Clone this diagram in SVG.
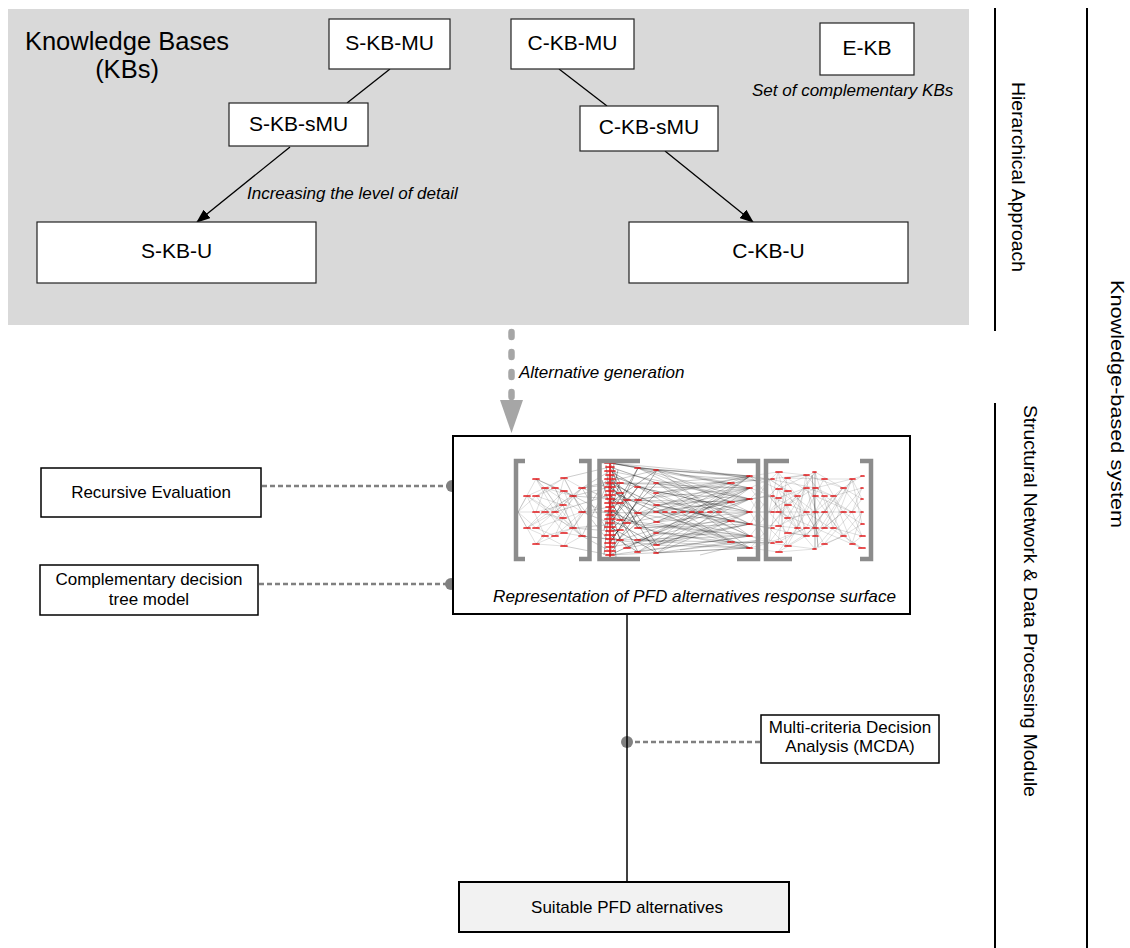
<svg xmlns="http://www.w3.org/2000/svg" width="1130" height="948" viewBox="0 0 1130 948">
  <style>
    .lbl { font-family: "Liberation Sans", Arial, sans-serif; fill: #000; }
    .box { fill: #fff; stroke: #222; stroke-width: 1.2; }
    .it { font-family: "Liberation Sans", Arial, sans-serif; font-style: italic; fill: #000; }
    .dot { stroke: #808080; stroke-width: 2.5; stroke-dasharray: 5 3; fill: none; }
    .pin { fill: #808080; }
    .bracket { fill: none; stroke: #8c8c8c; stroke-width: 4.5; }
    .vert { font-family: "Liberation Sans", Arial, sans-serif; font-size: 19px; fill: #000; }
  </style>
  <defs>
    <marker id="arrow" markerUnits="userSpaceOnUse" markerWidth="14" markerHeight="11" refX="13" refY="5.5" orient="auto">
      <path d="M0 0 L14 5.5 L0 11 Z" fill="#000"/>
    </marker>
  </defs>

  <rect width="1130" height="948" fill="#fff"/>

  <!-- knowledge base panel -->
  <rect id="kb-panel" x="8" y="9" width="961" height="316" fill="#d9d9d9"/>
  <g id="kb-title">
    <text class="lbl" x="127" y="50" font-size="25.5" text-anchor="middle">Knowledge Bases</text>
    <text class="lbl" x="127" y="78" font-size="25.5" text-anchor="middle">(KBs)</text>
  </g>

  <!-- connectors -->
  <g id="connectors">
    <line x1="390" y1="69" x2="347" y2="103" stroke="#000" stroke-width="1.3"/>
    <line x1="290" y1="147" x2="197" y2="222" stroke="#000" stroke-width="1.3" marker-end="url(#arrow)"/>
    <line x1="559" y1="69" x2="607" y2="106" stroke="#000" stroke-width="1.3"/>
    <line x1="665" y1="151" x2="753" y2="222" stroke="#000" stroke-width="1.3" marker-end="url(#arrow)"/>
    <!-- alternative generation -->
    <line x1="511.5" y1="332" x2="511.5" y2="397" stroke="#a6a6a6" stroke-width="6.5" stroke-linecap="round" stroke-dasharray="5 15"/>
    <path d="M500 400 L523 400 L511.5 433 Z" fill="#a6a6a6"/>
    <!-- dotted attachments -->
    <line class="dot" x1="262" y1="486" x2="452" y2="486"/>
    <line class="dot" x1="259" y1="584" x2="452" y2="584"/>
    <line class="dot" x1="627" y1="742" x2="761" y2="742"/>
    <circle class="pin" cx="452" cy="486" r="6"/>
    <circle class="pin" cx="451" cy="584" r="6"/>
    <circle class="pin" cx="627" cy="742" r="6"/>
    <!-- main flow -->
    <line x1="627" y1="614" x2="627" y2="882" stroke="#000" stroke-width="1.5"/>
  </g>

  <g id="s-kb-mu">
    <rect class="box" x="329" y="19" width="121" height="50"/>
    <text class="lbl" x="389.5" y="50" font-size="21" text-anchor="middle">S-KB-MU</text>
  </g>
  <g id="s-kb-smu">
    <rect class="box" x="229" y="103" width="139" height="43"/>
    <text class="lbl" x="298.5" y="131" font-size="21" text-anchor="middle">S-KB-sMU</text>
  </g>
  <g id="s-kb-u">
    <rect class="box" x="37" y="222" width="279" height="61"/>
    <text class="lbl" x="176.5" y="258" font-size="21" text-anchor="middle">S-KB-U</text>
  </g>
  <g id="c-kb-mu">
    <rect class="box" x="511" y="19" width="123" height="50"/>
    <text class="lbl" x="572.5" y="50" font-size="21" text-anchor="middle">C-KB-MU</text>
  </g>
  <g id="c-kb-smu">
    <rect class="box" x="580" y="106" width="138" height="45"/>
    <text class="lbl" x="649" y="134" font-size="21" text-anchor="middle">C-KB-sMU</text>
  </g>
  <g id="c-kb-u">
    <rect class="box" x="629" y="222" width="279" height="61"/>
    <text class="lbl" x="768.5" y="258" font-size="21" text-anchor="middle">C-KB-U</text>
  </g>
  <g id="e-kb">
    <rect class="box" x="820" y="23" width="94" height="52"/>
    <text class="lbl" x="867" y="55" font-size="21" text-anchor="middle">E-KB</text>
  </g>

  <text class="it" x="247" y="199" font-size="17">Increasing the level of detail</text>
  <text class="it" x="752" y="96" font-size="17">Set of complementary KBs</text>
  <text class="it" x="519" y="378" font-size="17">Alternative generation</text>

  <!-- response surface -->
  <g id="response-surface">
    <rect x="453" y="436" width="457" height="178" fill="#fff" stroke="#000" stroke-width="2"/>
    <!-- network edges: light layer -->
    <path fill="none" stroke="#000" stroke-width="0.5" stroke-opacity="0.25" d="
      M518 512L536 479M518 512L527 496M518 512L536 496M518 512L536 512M518 512L527 528M518 512L536 528M518 512L536 544
      M536 479L545 488M536 479L555 488M536 479L564 491M536 479L555 512M536 479L573 496
      M564 478L545 488M564 478L555 512M564 478L582 488M564 478L573 496M564 478L536 496M564 478L582 512
      M527 496L545 488M527 496L555 512M527 496L545 536M536 496L563 505M536 496L555 488M536 496L564 533
      M545 488L573 496M545 488L563 518M545 488L582 512M555 488L573 528M555 488L563 505M564 491L582 536M564 491L573 496
      M536 512L563 505M536 512L563 518M536 512L545 488M545 512L573 496M545 512L573 528M555 512L582 488M555 512L582 536
      M527 528L545 536M527 528L555 512M527 528L564 491M536 528L563 505M536 528L555 536M536 528L582 512
      M545 536L573 528M545 536L564 546M555 536L563 518M555 536L582 512M564 533L582 536M536 544L545 536M536 544L564 546M536 544L573 528M564 546L582 536M564 546L573 528
      M563 505L582 488M563 505L573 528M563 518L582 536M563 518L573 496M573 496L582 512M573 528L582 512
      M536 479L582 536M536 544L582 488M527 496L582 536M527 528L582 488
      M750 476L769 479M750 476L778 472M750 476L769 496M750 476L778 489M750 488L769 479M750 488L769 512M750 488L778 498
      M750 499L769 496M750 499L778 472M750 499L769 528M750 512L769 512M750 512L778 512M750 512L769 479M750 512L769 543
      M750 524L769 528M750 524L778 526M750 524L769 496M750 536L769 543M750 536L778 542M750 536L769 512M750 548L769 543M750 548L778 552M750 548L769 528
      M769 479L787 491M769 479L797 496M769 479L806 475M769 479L778 512M769 479L815 488
      M769 496L787 478M769 496L787 518M769 496L806 512M769 496L797 528
      M769 512L787 491M769 512L787 533M769 512L806 488M769 512L815 512M769 512L778 472
      M769 528L787 505M769 528L787 546M769 528L806 536M769 528L797 496
      M769 543L787 518M769 543L806 528M769 543L778 489M769 543L815 549
      M778 472L806 475M778 472L797 496M778 472L787 505M778 489L806 512M778 489L797 528M778 489L815 472
      M778 498L787 546M778 498L806 488M778 512L797 496M778 512L806 536M778 512L815 528
      M778 526L787 478M778 526L806 512M778 526L797 528M778 542L806 528M778 542L787 491
      M778 552L797 528M778 552L806 536M778 552L815 549
      M787 478L815 496M787 478L806 475M787 478L824 479M787 491L815 512M787 491L806 528M787 505L815 488M787 505L806 536
      M787 518L815 472M787 518L824 512M787 533L806 488M787 533L815 536M787 546L815 528M787 546L806 512
      M797 496L815 472M797 496L815 528M797 496L806 536M797 528L815 488M797 528L806 475M797 528L815 549
      M806 475L824 496M806 475L843 488M806 475L815 536M806 488L824 528M806 488L833 496
      M806 512L824 479M806 512L843 536M806 512L824 544M806 528L824 496M806 528L833 528M806 536L824 512M806 536L843 488
      M815 472L843 488M815 472L833 528M815 488L852 479M815 488L833 496M815 496L843 536M815 496L852 512
      M815 512L843 488M815 512L862 512M815 528L852 544M815 528L833 496M815 536L843 512M815 536L852 479M815 549L843 536M815 549L833 528
      M824 479L852 479M824 479L843 512M824 496L852 512M824 496L843 536M824 512L852 544M824 512L843 488
      M824 528L852 479M824 528L843 512M824 544L852 512M824 544L843 536M833 496L852 544M833 496L862 488M833 528L852 479M833 528L862 536
      M843 488L862 476M843 488L862 499M843 488L862 512M843 512L862 488M843 512L862 524M843 512L862 536
      M843 536L862 512M843 536L862 548M843 536L862 524M852 479L862 476M852 479L862 499M852 479L862 524
      M852 512L862 488M852 512L862 536M852 512L862 499M852 544L862 548M852 544L862 512M852 544L862 536
      M657 512L722 512"/>
    <!-- network edges: fan between the central groups -->
    <path fill="none" stroke="#000" stroke-width="0.5" stroke-opacity="0.4" d="
      M582 488L610 471M582 488L610 499M582 488L620 483M582 512L610 507M582 512L610 523M582 512L638 513M582 536L610 539M582 536L610 551
      M573 496L610 487M573 528L610 531M564 478L610 467M564 546L610 555M582 488L657 470M582 536L657 545M573 496L627 500M573 528L627 523
      M564 491L610 515M555 512L610 495M582 488L610 535M582 536L610 479M573 496L610 543M573 528L610 475
      M638 468L750 476M638 468L750 499M638 468L750 524M638 468L731 502M638 468L769 479
      M657 470L750 476M657 470L750 488M657 470L750 512M657 470L750 536M657 470L731 483
      M620 483L750 488M620 483L750 512M620 483L731 483
      M657 483L750 476M657 483L750 499M657 483L750 524M657 483L750 548M657 483L731 521
      M638 487L750 488M638 487L750 512M638 487L750 536M638 487L731 542
      M657 493L750 476M657 493L750 499M657 493L750 536M657 493L731 483
      M627 500L750 488M627 500L750 524M627 500L731 502
      M638 500L750 476M638 500L750 512M638 500L750 548
      M657 505L750 488M657 505L750 499M657 505L750 524M657 505L731 521
      M638 513L750 476M638 513L750 512M638 513L750 536M638 513L731 502
      M657 512L750 499M657 512L750 524M657 512L750 548M657 512L731 483M657 512L731 542
      M620 520L750 488M620 520L750 536
      M657 522L750 476M657 522L750 512M657 522L750 548M657 522L731 502
      M627 523L750 499M627 523L750 536
      M638 528L750 488M638 528L750 524M638 528L750 548M638 528L731 521
      M657 533L750 476M657 533L750 499M657 533L750 536M657 533L731 542
      M638 540L750 488M638 540L750 512M638 540L750 548M638 540L769 543
      M657 545L750 476M657 545L750 512M657 545L750 524M657 545L750 548M657 545L731 521
      M620 540L750 499M620 540L750 536M627 548L750 488M627 548L750 524
      M638 552L750 476M638 552L750 499M638 552L750 536
      M657 553L750 488M657 553L750 512M657 553L750 548M657 553L731 542
      M610 463L750 476M610 463L750 488M610 555L750 536M610 555L750 548M610 471L750 499M610 547L750 524
      M731 483L769 479M731 542L769 543M731 502L769 496M731 521L769 528
      M700 470L760 481M700 555L760 540M680 475L760 481M680 550L760 540"/>
    <!-- network edges: dense core -->
    <path fill="none" stroke="#000" stroke-width="0.6" stroke-opacity="0.55" d="
      M610 463L638 468M610 463L657 470M610 463L620 483M610 467L657 483M610 471L638 487M610 475L657 493M610 479L620 493M610 479L638 500
      M610 483L657 505M610 487L627 500M610 487L638 513M610 491L657 512M610 495L620 503M610 495L638 528M610 499L657 522M610 503L627 523
      M610 503L657 470M610 507L638 540M610 511L657 533M610 515L620 520M610 515L638 468M610 519L657 545M610 523L627 548M610 523L638 487
      M610 527L657 553M610 531L620 530M610 531L657 483M610 535L638 552M610 539L620 540M610 539L657 493M610 543L638 500M610 547L657 505
      M610 551L638 513M610 555L657 533M610 555L620 540M610 467L638 528M610 475L657 545M610 499L638 552M610 511L620 483M610 543L657 470
      M610 527L638 468M610 483L657 553M610 507L627 500M610 519L638 487
      M606 465L616 557M614 463L604 555M602 480L620 540M618 470L604 530
      M815 472L815 549M812 475L818 547"/>
    <!-- network nodes -->
    <path fill="none" stroke="#e41a1c" stroke-width="1.7" stroke-linecap="round" d="
      M533 479h6M561 478h6M542 488h6M552 488h6M561 491h6M579 488h6M524 496h6M533 496h6M570 496h6M560 505h6
      M533 512h6M542 512h6M552 512h6M579 512h6M560 518h6M524 528h6M533 528h6M570 528h6M542 536h6M552 536h6
      M561 533h6M579 536h6M533 544h6M561 546h6
      M605 463h10M606 467h8M605 471h10M606 475h8M605 479h10M606 483h8M605 487h10M606 491h8M605 495h10M606 499h8
      M605 503h10M606 507h8M605 511h10M606 515h8M605 519h10M606 523h8M605 527h10M606 531h8M605 535h10M606 539h8
      M605 543h10M606 547h8M605 551h10M606 555h8
      M617 483h6M617 493h6M617 503h6M617 520h6M617 530h6M617 540h6M624 500h6M624 523h6M624 548h6
      M635 468h5M635 487h5M635 500h6M635 513h6M635 528h6M635 540h5M635 552h5
      M654 470h4M654 483h4M654 493h4M654 505h5M654 512h4M654 522h5M654 533h4M654 545h5M654 553h4
      M663 512h4M672 512h4M681 512h4M690 512h4M699 512h4M708 512h4M717 512h4
      M728 483h6M728 502h6M728 521h6M728 542h6
      M747 476h5M747 488h5M747 499h5M747 512h5M747 524h5M747 536h5M747 548h5
      M771 479h3M771 496h3M771 512h3M771 528h3M771 543h3
      M776 472h6M776 489h6M776 498h5M776 512h5M776 526h5M776 542h6M776 552h6
      M785 478h5M785 491h6M785 505h6M785 518h5M785 533h6M785 546h6
      M795 496h5M795 528h5
      M804 475h5M804 488h5M804 512h5M804 528h5M804 536h5
      M813 472h3M813 488h5M813 496h5M813 512h5M813 528h5M813 536h5M813 549h3
      M822 479h5M822 496h5M822 512h5M822 528h5M822 544h5
      M831 496h5M831 528h5
      M841 488h5M841 512h5M841 536h5
      M850 479h5M850 512h5M850 544h5
      M861 476h3M861 488h2M861 499h2M861 512h2M861 524h3M860 536h5M859 548h6"/>
    <path fill="none" stroke="#e41a1c" stroke-width="1.6" d="M610 463V557"/>
    <!-- brackets -->
    <path class="bracket" d="M525 461H516V559H525"/>
    <path class="bracket" d="M579 461H589.5V559H579"/>
    <path class="bracket" d="M640 461H599.5V559H640"/>
    <path class="bracket" d="M737 461H758V559H737"/>
    <path class="bracket" d="M789 461H766V559H792"/>
    <path class="bracket" d="M860 461H871V559H860"/>
    <text class="it" x="493" y="602" font-size="17" textLength="403" lengthAdjust="spacingAndGlyphs">Representation of PFD alternatives response surface</text>
  </g>

  <g id="recursive-evaluation">
    <rect x="41" y="468" width="220" height="49" fill="#fff" stroke="#000" stroke-width="1.5"/>
    <text class="lbl" x="151" y="498" font-size="17" text-anchor="middle">Recursive Evaluation</text>
  </g>
  <g id="decision-tree">
    <rect x="40" y="565" width="218" height="50" fill="#fff" stroke="#000" stroke-width="1.5"/>
    <text class="lbl" x="149" y="585" font-size="17" text-anchor="middle">Complementary decision</text>
    <text class="lbl" x="149" y="605" font-size="17" text-anchor="middle">tree model</text>
  </g>
  <g id="mcda">
    <rect x="761" y="715" width="178" height="48" fill="#fff" stroke="#000" stroke-width="1.5"/>
    <text class="lbl" x="850" y="733" font-size="17" text-anchor="middle">Multi-criteria Decision</text>
    <text class="lbl" x="850" y="752" font-size="17" text-anchor="middle">Analysis (MCDA)</text>
  </g>
  <g id="suitable-alternatives">
    <rect x="459" y="882" width="330" height="50" fill="#f2f2f2" stroke="#000" stroke-width="2"/>
    <text class="lbl" x="627" y="913" font-size="17" text-anchor="middle">Suitable PFD alternatives</text>
  </g>

  <!-- side brackets -->
  <g id="side-labels">
    <line x1="995" y1="8" x2="995" y2="331" stroke="#000" stroke-width="2"/>
    <line x1="995" y1="403" x2="995" y2="948" stroke="#000" stroke-width="2"/>
    <line x1="1087" y1="8" x2="1087" y2="948" stroke="#000" stroke-width="2"/>
    <text class="vert" transform="translate(1012 177) rotate(90)" text-anchor="middle" textLength="190" lengthAdjust="spacingAndGlyphs">Hierarchical Approach</text>
    <text class="vert" transform="translate(1024 601) rotate(90)" text-anchor="middle" textLength="392" lengthAdjust="spacingAndGlyphs">Structural Network &amp; Data Processing Module</text>
    <text class="vert" transform="translate(1111 404) rotate(90)" text-anchor="middle" font-size="20" textLength="248" lengthAdjust="spacingAndGlyphs">Knowledge-based system</text>
  </g>
</svg>
